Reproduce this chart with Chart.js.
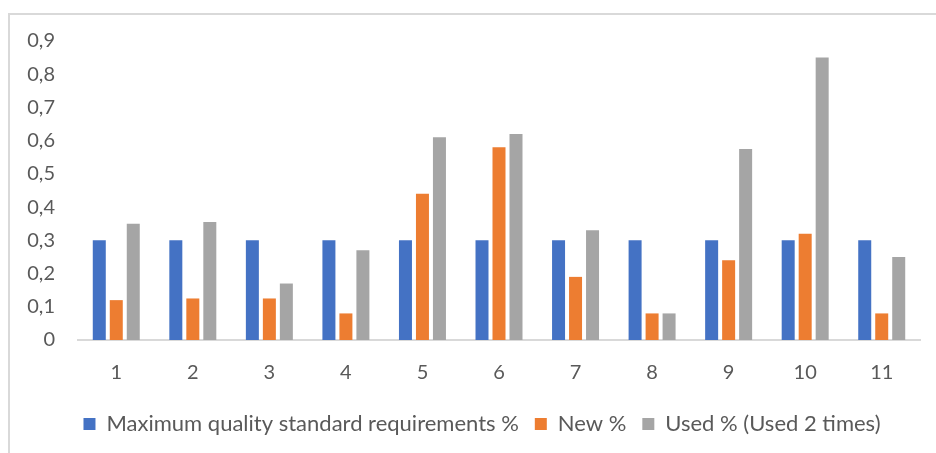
<!DOCTYPE html>
<html>
<head>
<meta charset="utf-8">
<script src="https://cdn.jsdelivr.net/npm/chart.js@4/dist/chart.umd.min.js"></script>
<style>
  html, body { margin: 0; padding: 0; background: #fff; }
  #wrap { position: relative; width: 936px; height: 453px; overflow: hidden; background: #fff; }
  #frame { position: absolute; left: 8px; top: 13px; width: 960px; height: 470px;
           border-left: 2px solid #d9d9d9; border-top: 2px solid #d9d9d9; pointer-events: none; }
  canvas { position: absolute; left: 0; top: 0; }
</style>
</head>
<body>
<div id="wrap">
  <canvas id="chart" width="936" height="453"></canvas>
  <div id="frame"></div>
</div>
<script>
// Sample numbers 1..11
const categories = ['1', '2', '3', '4', '5', '6', '7', '8', '9', '10', '11'];

// Shares per sample
const maxQualityPct = [0.3, 0.3, 0.3, 0.3, 0.3, 0.3, 0.3, 0.3, 0.3, 0.3, 0.3];
const newPct        = [0.12, 0.125, 0.125, 0.08, 0.44, 0.58, 0.19, 0.08, 0.24, 0.32, 0.08];
const usedPct       = [0.35, 0.355, 0.17, 0.27, 0.61, 0.62, 0.33, 0.08, 0.575, 0.85, 0.25];

// Value axis labels (decimal comma)
const yTickLabels = ['0', '0,1', '0,2', '0,3', '0,4', '0,5', '0,6', '0,7', '0,8', '0,9'];

const seriesNames = ['Maximum quality standard requirements %', 'New %', 'Used % (Used 2 times)'];
const seriesColors = ['#4472C4', '#ED7D31', '#A5A5A5'];

const FAMILY = 'Lato, "Open Sans", sans-serif';
const TICK_FONT = { family: FAMILY, size: 20 };
const LEGEND_FONT = { family: FAMILY, size: 22 };
const TEXT = '#595959';

// Nudge the legend row to the right so it sits under the plot
const LEGEND_SHIFT = 22;
const legendOffset = {
  id: 'legendOffset',
  afterLayout(chart) {
    const lg = chart.legend;
    if (!lg) return;
    lg.left += LEGEND_SHIFT;
    lg.right += LEGEND_SHIFT;
  }
};

new Chart(document.getElementById('chart'), {
  type: 'bar',
  data: {
    labels: categories,
    datasets: [maxQualityPct, newPct, usedPct].map((d, i) => ({
      label: seriesNames[i],
      data: d,
      backgroundColor: seriesColors[i],
      borderWidth: 0,
      categoryPercentage: 0.666,
      barPercentage: 0.765
    }))
  },
  plugins: [legendOffset],
  options: {
    responsive: false,
    animation: false,
    devicePixelRatio: 1,
    layout: { padding: { top: 41, right: 16, bottom: 8, left: 0 } },
    plugins: {
      tooltip: { enabled: false },
      legend: {
        position: 'bottom',
        labels: {
          font: LEGEND_FONT,
          color: TEXT,
          boxWidth: 12,
          boxHeight: 12,
          padding: 16
        }
      }
    },
    scales: {
      x: {
        grid: { display: false, drawTicks: false },
        border: { display: true, color: '#d9d9d9', width: 2 },
        ticks: { font: TICK_FONT, color: TEXT, padding: 21, maxRotation: 0 },
        afterFit: (s) => { s.height = 57; }
      },
      y: {
        min: 0,
        max: 0.9,
        grid: { display: false, drawTicks: false },
        border: { display: false },
        ticks: {
          stepSize: 0.1,
          font: TICK_FONT,
          color: TEXT,
          padding: 23,
          callback: (v, i) => yTickLabels[i]
        },
        afterFit: (s) => { s.width = 78; }
      }
    }
  }
});
</script>
</body>
</html>
